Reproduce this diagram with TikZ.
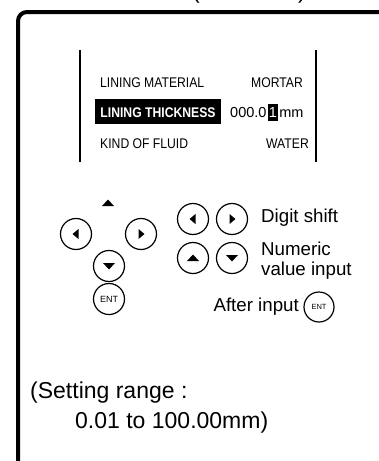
\documentclass[tikz,border=0pt]{standalone}
\usepackage{fontspec}
\setmainfont{Liberation Sans}
\newfontfamily\lcdfont[FakeStretch=0.87]{Liberation Sans}
\usetikzlibrary{calc}
\tikzset{
  btn/.style={circle, draw, line width=1.2pt, minimum size=31pt, inner sep=0pt},
  smallbtn/.style={circle, draw, line width=1.2pt, minimum size=30pt, inner sep=0pt},
  lcd/.style={inner sep=0pt, font=\lcdfont\fontsize{14}{16}\selectfont},
  digits/.style={inner sep=0pt, font=\fontsize{14.5}{16}\selectfont},
  hint/.style={inner sep=0pt, font=\fontsize{18.7}{20}\selectfont},
  big/.style={inner sep=0pt, font=\fontsize{23}{30}\selectfont},
  pics/trileft/.style={code={\fill (-3.5,0) -- (2.5,-5) -- (2.5,5) -- cycle;}},
  pics/triright/.style={code={\fill (3.5,0) -- (-2.5,-5) -- (-2.5,5) -- cycle;}},
  pics/triup/.style={code={\fill (0,-3.5) -- (-6,3) -- (6,3) -- cycle;}},
  pics/tridown/.style={code={\fill (0,3.5) -- (-6,-3) -- (6,-3) -- cycle;}},
}
\begin{document}
\begin{tikzpicture}[x=1pt, y=-1pt]
\useasboundingbox[fill=white] (0,0) rectangle (378,461);
% cut-off title fragments
\node[big, anchor=base] (tl) at (196,-2) {(};
\node[big, anchor=base] (tr) at (302,-2) {)};
% outer frame
\draw[line width=4pt, rounded corners=9pt] (18,480) -- (18,12) -- (400,12);
% display
\coordinate (dl1) at (80,50); \coordinate (dl2) at (80,162);
\coordinate (dr1) at (316,50); \coordinate (dr2) at (316,162);
\draw[line width=1.1pt] (dl1) -- (dl2);
\draw[line width=1.1pt] (dr1) -- (dr2);
\node[lcd, anchor=base west] (lm) at (100,87) {LINING MATERIAL};
\node[lcd, anchor=base east] (mo) at (303,87) {MORTAR};
\node[fill=black, minimum width=126pt, minimum height=25pt, inner sep=0pt] (lt) at (158,111.5) {};
\node[lcd, text=white, anchor=base, font=\lcdfont\bfseries\fontsize{14}{16}\selectfont] (ltt) at (158,117) {LINING THICKNESS};
\node[digits, anchor=base west] (d0) at (230,117) {000.0};
\node[fill=black, minimum width=10pt, minimum height=17pt, inner sep=0pt, anchor=west] (d1b) at ([xshift=1pt]d0.east |- 0,112.5) {};
\node[digits, text=white, anchor=base] (d1) at (d1b.center |- d0.base) {1};
\node[digits, anchor=base west] (d2) at ([xshift=1pt]d1b.east |- d0.base) {mm};
\node[lcd, anchor=base west] (kf) at (100,148) {KIND OF FLUID};
\node[lcd, anchor=base east] (wa) at (309,148) {WATER};
% left key cluster
\pic at (108,203) {triup};
\node[btn] (kl) at (76,234) {};
\node[btn] (kr) at (141,234) {};
\node[btn] (kd) at (109,266) {};
\node[btn, font=\fontsize{9}{10}\selectfont] (ke) at (109,299) {ENT};
\pic at (kl.center) {trileft};
\pic at (kr.center) {triright};
\pic at (kd.center) {tridown};
% right explanation
\node[btn] (el) at (193,219) {};
\node[btn] (er) at (232,219) {};
\node[btn] (eu) at (193,258) {};
\node[btn] (ed) at (232,258) {};
\pic at (el.center) {trileft};
\pic at (er.center) {triright};
\pic at (eu.center) {triup};
\pic at (ed.center) {tridown};
\node[hint, anchor=west] (ds) at (261,218) {Digit shift};
\node[hint, anchor=north west, align=left, font=\fontsize{18.7}{20}\selectfont] (nv) at (261,242) {Numeric\\value input};
\node[smallbtn, font=\fontsize{7.5}{8}\selectfont] (ke2) at (319,307) {ENT};
\node[hint, anchor=east] (ai) at (299,307) {After input};
% setting range
\node[big, anchor=base west] (sr1) at (30,398) {(Setting range :};
\node[big, anchor=base west] (sr2) at (75,428) {0.01 to 100.00mm)};
\end{tikzpicture}
\end{document}
